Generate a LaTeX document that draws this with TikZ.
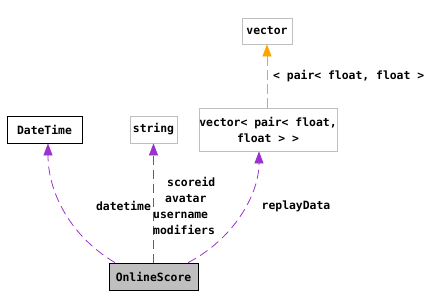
\documentclass[tikz,border=0pt]{standalone}
\usepackage{fontspec}
\newfontfamily\dxfont{DejaVu Sans Mono}
\usetikzlibrary{arrows.meta,calc}
\definecolor{edgepurple}{HTML}{9A32CD}
\definecolor{edgeorange}{HTML}{FFA500}
\definecolor{boxgray}{HTML}{BFBFBF}
\begin{document}
\begin{tikzpicture}[x=1bp,y=-1bp,
  every node/.style={font=\dxfont\bfseries\fontsize{11.4bp}{16bp}\selectfont, inner sep=0pt},
  classbox/.style={draw=boxgray, line width=0.8bp, fill=white},
  mainbox/.style={draw=black, line width=0.8bp, fill=boxgray},
  refbox/.style={draw=black, line width=0.8bp, fill=white},
  usage/.style={draw=edgepurple, line width=0.8bp, dash pattern=on 9bp off 5bp,
    -{Triangle[length=12bp,width=9bp,fill=edgepurple]}},
  inherit/.style={draw=edgeorange, line width=0.8bp, dash pattern=on 10bp off 4bp,
    -{Triangle[length=12bp,width=9bp,fill=edgeorange]}},
  lbl/.style={fill=none}]
\useasboundingbox (0,0) rectangle (429,307);

% class boxes
\node[refbox, minimum width=75bp, minimum height=27bp] (dt) at (44.5,129.5) {DateTime};
\node[classbox, minimum width=47bp, minimum height=27bp] (str) at (153.5,129.5) {string};
\node[classbox, minimum width=50bp, minimum height=26bp] (vec) at (267,31) {vector};
\node[classbox, minimum width=138bp, minimum height=43bp, align=center] (vp) at (268,129.5)
  {vector< pair< float,\\float > >};
\node[mainbox, minimum width=89bp, minimum height=27bp] (os) at (153.5,276.5) {OnlineScore};

% template instantiation
\draw[inherit] (vp.north -| vec) -- (vec.south);
\node[lbl, anchor=west] (tplabel) at (273,76) {< pair< float, float >};

% member usage
\draw[usage] ($(os.north)+(-38.5,0)$) .. controls (70,236) and (48,192) .. ($(dt.south)+(3.5,0)$);
\draw[usage] (os.north) -- (str.south);
\draw[usage] ($(os.north)+(34.5,0)$) .. controls (232,240) and (259,196) .. ($(vp.south)+(-9,0)$);

\node[lbl] (ldt) at (123.5,206) {datetime};
\node[lbl, anchor=west, align=left] (lstr) at (153,206)
  {\hspace*{14bp}scoreid\\\hspace*{12bp}avatar\\username\\modifiers};
\node[lbl] (lrd) at (296,206) {replayData};
\end{tikzpicture}
\end{document}
